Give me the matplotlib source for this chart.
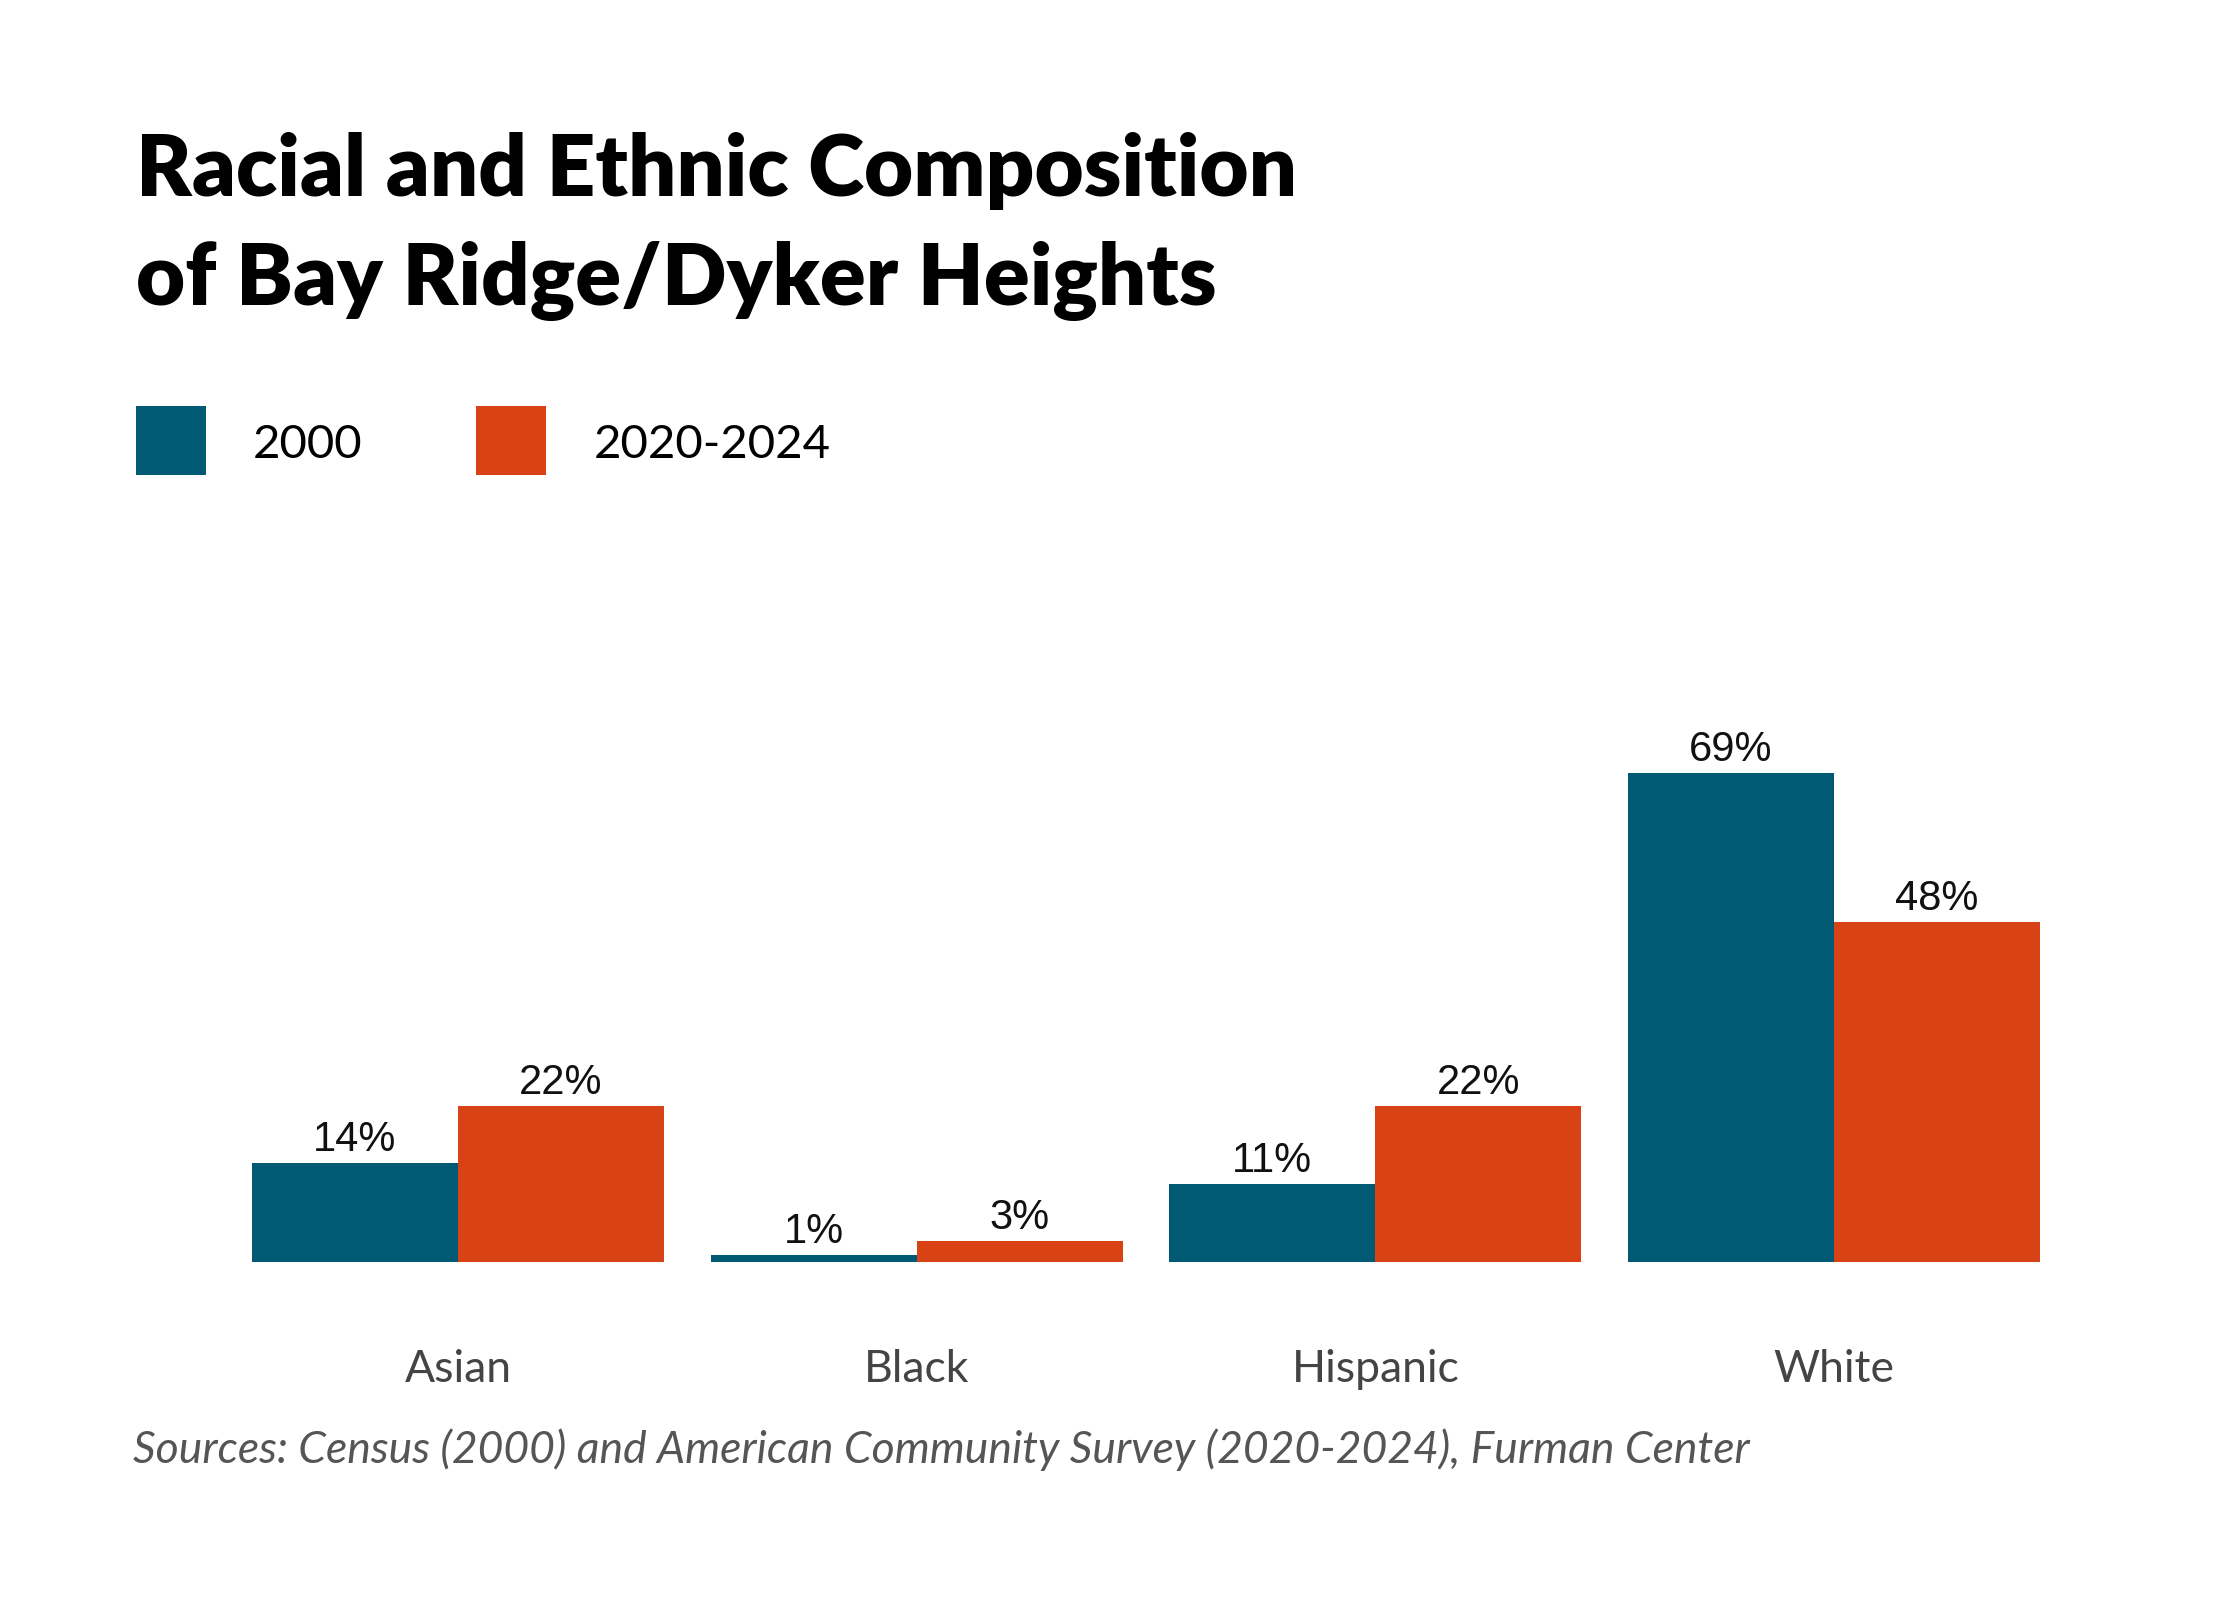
import matplotlib
matplotlib.use("Agg")
import matplotlib.pyplot as plt
import numpy as np

# data
categories = ['Asian', 'Black', 'Hispanic', 'White']
series_names = ['2000', '2020-2024']
values_2000 = [14, 1, 11, 69]
values_2024 = [22, 3, 22, 48]
colors = ['#005A74', '#D84214']

W, H = 2240, 1600
DPI = 200


def fx(px):
    return px / W


def fy(py):
    return 1 - py / H


fig = plt.figure(figsize=(W / DPI, H / DPI), dpi=DPI)
fig.patch.set_facecolor('white')

# axes placed so bars land where they are in the reference
ax_left, ax_right = 252, 2040
ax_bottom, ax_top = 1262, 766
ax = fig.add_axes([fx(ax_left), fy(ax_bottom), fx(ax_right - ax_left), (ax_bottom - ax_top) / H])

bar_w = 0.449
x = np.arange(len(categories))
b1 = ax.bar(x - bar_w / 2, values_2000, bar_w, color=colors[0], linewidth=0)
b2 = ax.bar(x + bar_w / 2, values_2024, bar_w, color=colors[1], linewidth=0)

ax.set_xlim(-bar_w, len(categories) - 1 + bar_w)
ax.set_ylim(0, 70)
ax.axis('off')

label_font = ['Liberation Sans', 'DejaVu Sans']
for bars, vals in ((b1, values_2000), (b2, values_2024)):
    for rect, v in zip(bars, vals):
        ax.annotate(f'{v}%', (rect.get_x() + rect.get_width() / 2, rect.get_height()),
                    xytext=(0, 1.0), textcoords='offset points',
                    ha='center', va='bottom', fontsize=15, color='#111111',
                    family=label_font)

# category labels under the groups
for i, cat in enumerate(categories):
    ax.annotate(cat, (i, 0), xycoords=('data', 'axes fraction'),
                xytext=(0, -(1382 - 1262) * 72 / DPI), textcoords='offset points',
                ha='center', va='baseline', fontsize=16, color='#444444',
                family=['Lato', 'DejaVu Sans'])

# title
title_font = ['Lato', 'DejaVu Sans']
fig.text(fx(136), fy(196), 'Racial and Ethnic Composition', fontsize=30.6, fontweight='heavy',
         family=title_font, ha='left', va='baseline', color='black')
fig.text(fx(136), fy(305), 'of Bay Ridge/Dyker Heights', fontsize=30.6, fontweight='heavy',
         family=title_font, ha='left', va='baseline', color='black')

# legend
leg_x = [136, 476]
leg_tx = [253, 594]
for sx, tx, name, c in zip(leg_x, leg_tx, series_names, colors):
    fig.patches.append(plt.Rectangle((fx(sx), fy(475)), fx(70), 69 / H,
                                     transform=fig.transFigure, color=c, linewidth=0))
    fig.text(fx(tx), fy(458), name, fontsize=17, family=['Lato', 'DejaVu Sans'],
             ha='left', va='baseline', color='black')

# source note
fig.text(fx(133), fy(1463), 'Sources: Census (2000) and American Community Survey (2020-2024), Furman Center',
         fontsize=16, style='italic', family=['Lato', 'DejaVu Sans'],
         ha='left', va='baseline', color='#555555')

fig.savefig('out.png', dpi=DPI, facecolor='white')
